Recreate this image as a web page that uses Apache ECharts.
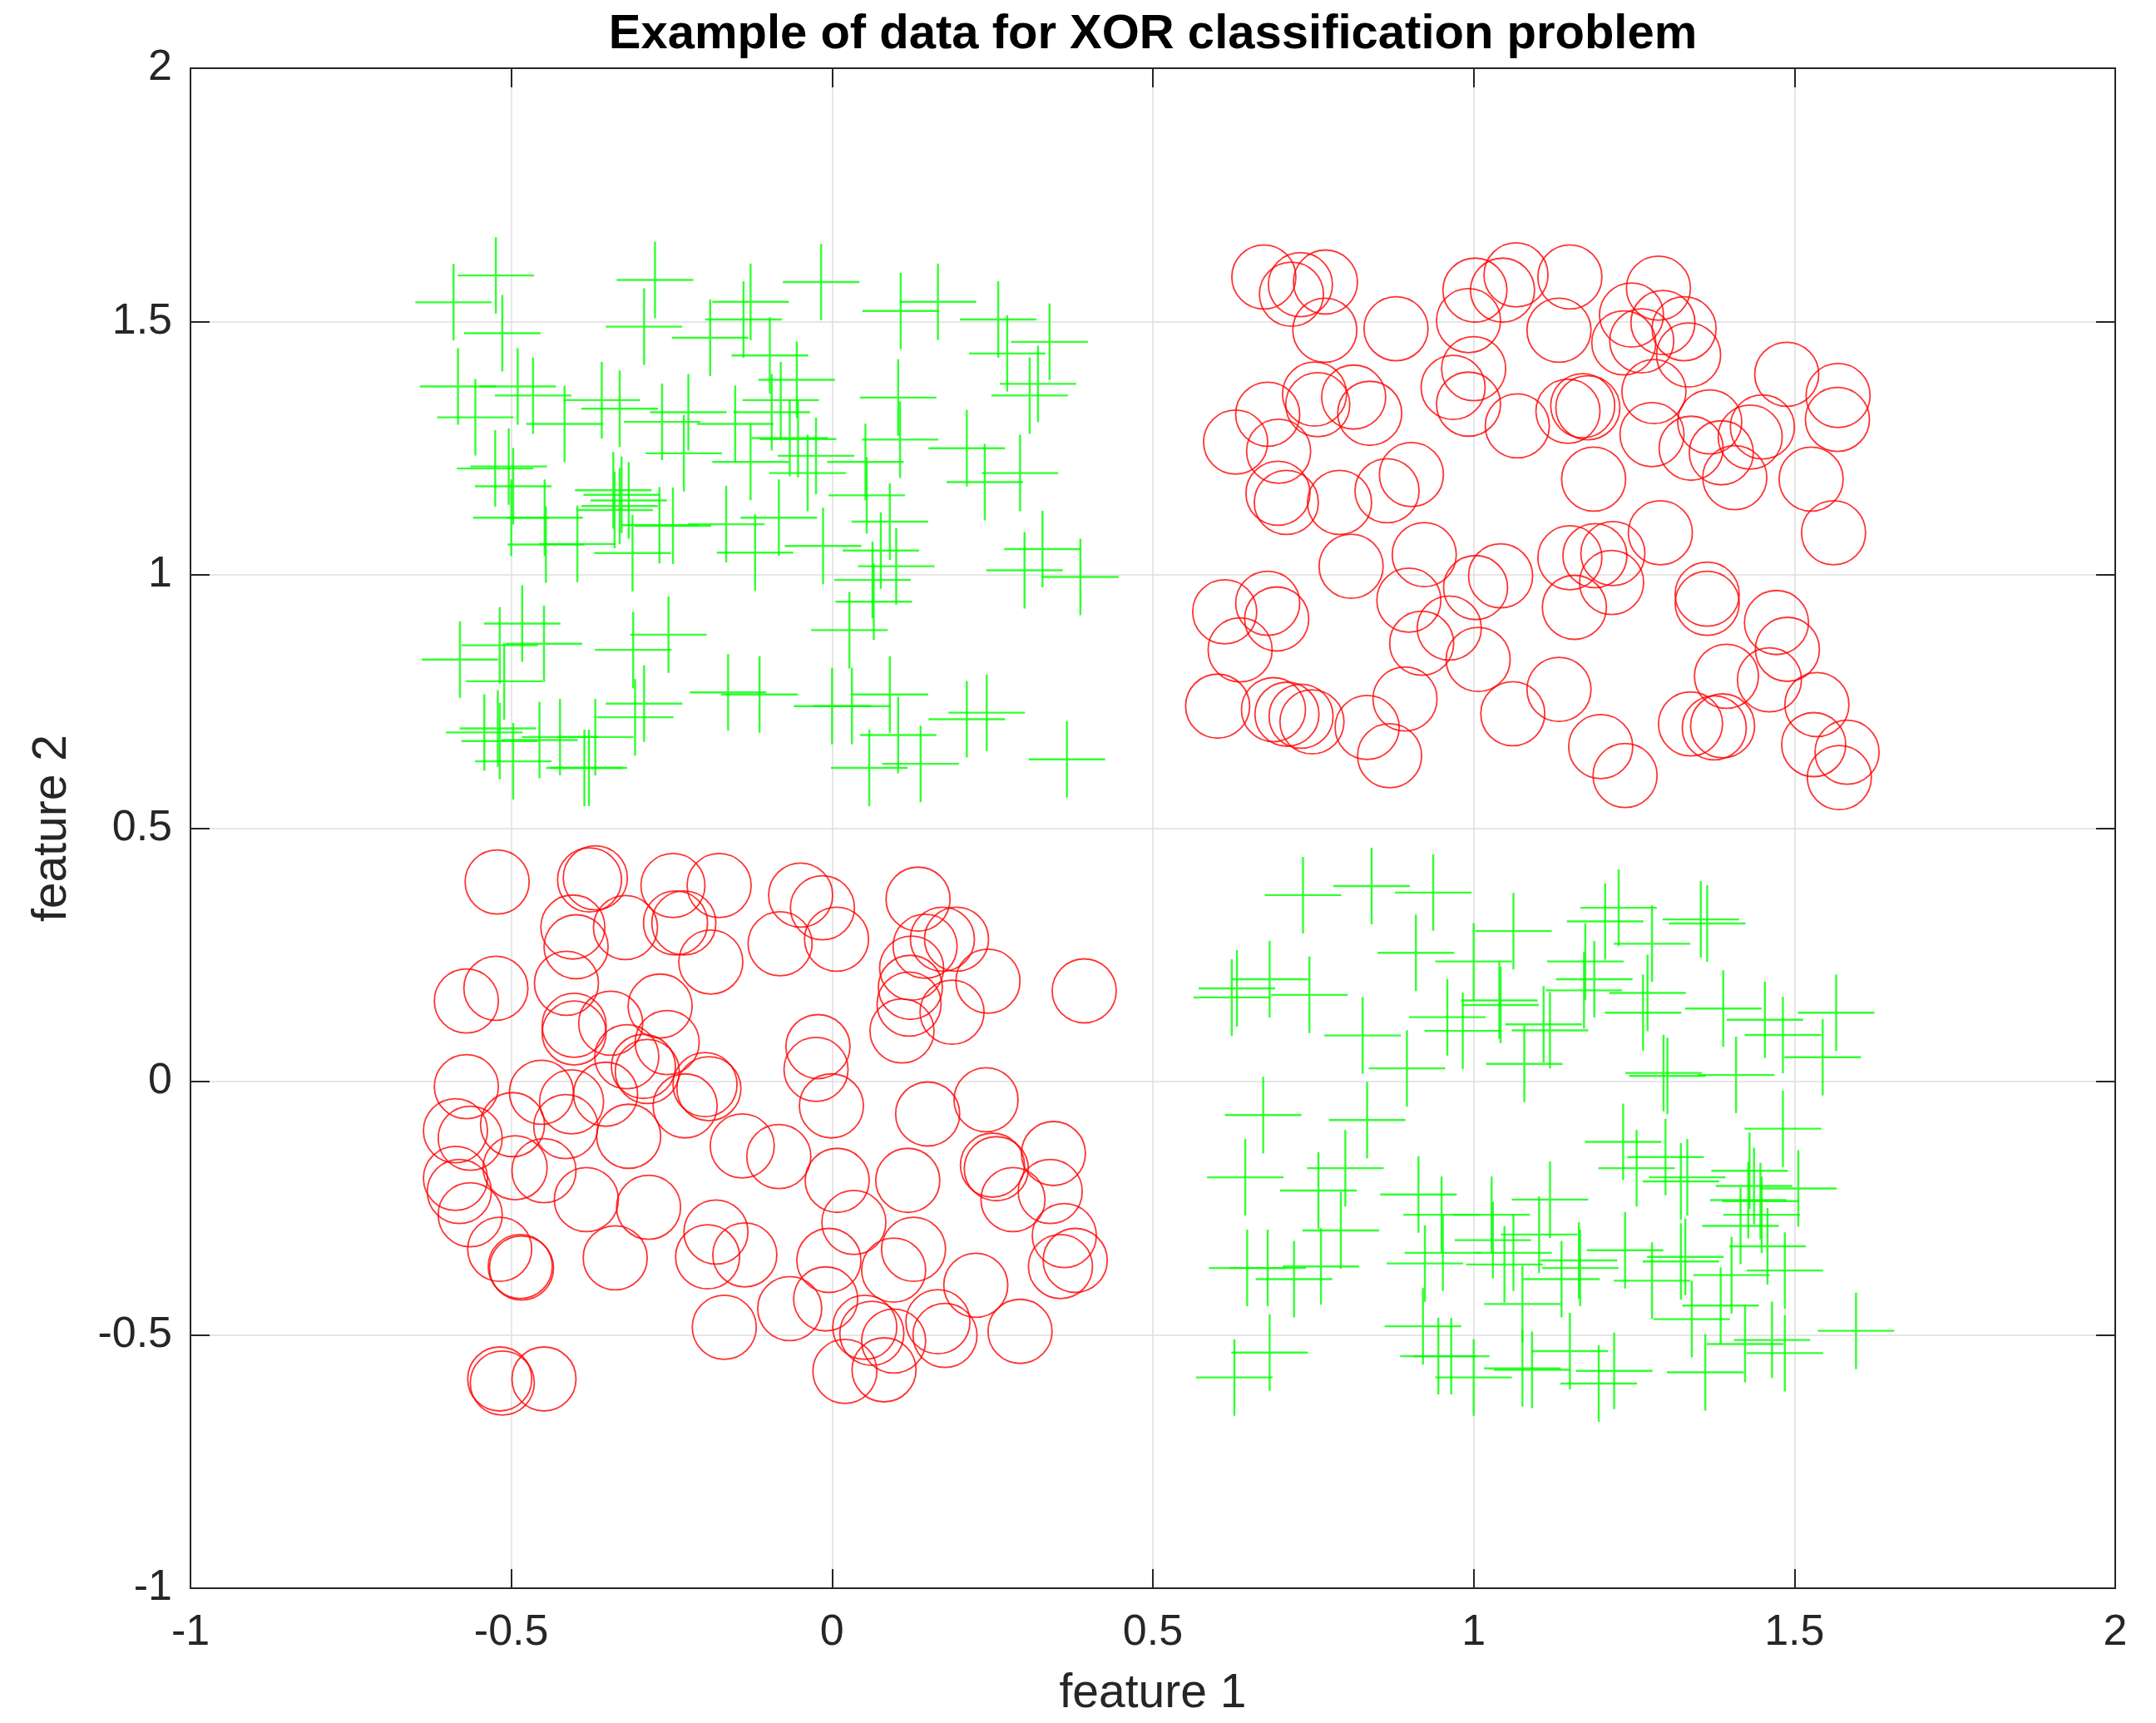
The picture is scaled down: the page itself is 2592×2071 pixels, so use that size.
<!DOCTYPE html>
<html>
<head>
<meta charset="utf-8">
<title>Example of data for XOR classification problem</title>
<script src="https://cdn.jsdelivr.net/npm/echarts@6/dist/echarts.min.js"></script>
<style>
  html, body { margin: 0; padding: 0; background: #fff; }
  #chart { width: 2592px; height: 2071px; }
</style>
</head>
<body>
<div id="chart"></div>
<script>
// axis range (both features)
const axisMin = -1
const axisMax = 2
const axisStep = 0.5

// class "+" (green): upper-left and lower-right blobs
const plusUpperLeft = [
  [-0.590, 1.538], [-0.524, 1.591], [-0.514, 1.477], [-0.276, 1.582], [-0.293, 1.490], [-0.190, 1.468],
  [-0.127, 1.539], [-0.138, 1.504], [-0.097, 1.433], [-0.583, 1.372], [-0.556, 1.311], [-0.490, 1.372],
  [-0.466, 1.354], [-0.417, 1.298], [-0.359, 1.345], [-0.331, 1.328], [-0.265, 1.302], [-0.224, 1.321],
  [-0.231, 1.240], [-0.151, 1.298], [-0.127, 1.223], [-0.525, 1.210], [-0.504, 1.214], [-0.497, 1.175],
  [-0.500, 1.113], [-0.448, 1.113], [-0.446, 1.060], [-0.397, 1.061], [-0.341, 1.167], [-0.339, 1.128],
  [-0.331, 1.136], [-0.317, 1.147], [-0.328, 1.158], [-0.311, 1.043], [-0.269, 1.098], [-0.248, 1.097],
  [-0.165, 1.100], [-0.120, 1.044], [-0.483, 0.904], [-0.449, 0.864], [-0.518, 0.861], [-0.580, 0.833],
  [-0.511, 0.790], [-0.310, 0.852], [-0.255, 0.882], [-0.162, 0.768], [-0.113, 0.764], [-0.307, 0.719],
  [-0.293, 0.746], [-0.542, 0.689], [-0.521, 0.697], [-0.518, 0.672], [-0.497, 0.632], [-0.456, 0.674],
  [-0.424, 0.680], [-0.369, 0.680], [-0.386, 0.619], [-0.379, 0.619],
  [-0.017, 1.578], [0.107, 1.521], [0.165, 1.539], [0.259, 1.504], [0.273, 1.437], [0.339, 1.460],
  [0.321, 1.377], [0.308, 1.354], [-0.055, 1.385], [-0.080, 1.345], [-0.094, 1.321], [-0.066, 1.270],
  [-0.053, 1.268], [-0.038, 1.201], [-0.025, 1.235], [0.103, 1.350], [0.106, 1.267], [0.052, 1.223],
  [0.054, 1.157], [0.210, 1.250], [0.238, 1.183], [0.293, 1.201], [0.090, 1.105], [0.076, 1.048],
  [0.100, 1.017], [0.063, 0.990], [0.065, 0.947], [0.027, 0.891], [-0.014, 1.057], [-0.083, 1.113],
  [0.300, 1.009], [0.328, 1.051], [0.387, 0.996], [0.000, 0.741], [0.031, 0.741], [0.090, 0.764],
  [0.103, 0.684], [0.058, 0.619], [0.138, 0.627], [0.210, 0.715], [0.241, 0.728], [0.366, 0.636],
]

const plusLowerRight = [
  [0.734, 0.368], [0.841, 0.386], [0.937, 0.373], [0.910, 0.254], [1.062, 0.297], [1.000, 0.237],
  [1.040, 0.160], [1.042, 0.151], [0.959, 0.127], [0.983, 0.100], [1.079, 0.035], [0.623, 0.166],
  [0.631, 0.184], [0.682, 0.202], [0.744, 0.171], [0.827, 0.091], [0.896, 0.026], [0.672, -0.066],
  [0.834, -0.076], [0.644, -0.189], [0.800, -0.171], [0.758, -0.215], [0.793, -0.294], [0.647, -0.368],
  [0.679, -0.368], [0.720, -0.390], [0.762, -0.365], [0.914, -0.223], [0.950, -0.263], [1.028, -0.263],
  [0.952, -0.338], [0.924, -0.359], [1.030, -0.313], [1.048, -0.361], [1.062, -0.338], [0.921, -0.483],
  [0.945, -0.542], [0.965, -0.542], [1.000, -0.584], [0.682, -0.535], [0.627, -0.584], [1.076, -0.439],
  [1.076, -0.566],
  [1.205, 0.316], [1.226, 0.343], [1.278, 0.272], [1.354, 0.320], [1.364, 0.312], [1.174, 0.237],
  [1.172, 0.180], [1.188, 0.202], [1.109, 0.113], [1.119, 0.101], [1.264, 0.136], [1.271, 0.175],
  [1.389, 0.144], [1.454, 0.122], [1.482, 0.092], [1.565, 0.136], [1.544, 0.048], [1.296, 0.017],
  [1.302, 0.011], [1.409, 0.013], [1.233, -0.119], [1.254, -0.171], [1.299, -0.149], [1.323, -0.197],
  [1.333, -0.189], [1.482, -0.093], [1.506, -0.211], [1.430, -0.176], [1.437, -0.206], [1.428, -0.234],
  [1.447, -0.236], [1.449, -0.263], [1.416, -0.285], [1.458, -0.325], [1.119, -0.233], [1.102, -0.302],
  [1.164, -0.353], [1.166, -0.368], [1.137, -0.390], [1.236, -0.333], [1.278, -0.393], [1.340, -0.469],
  [1.323, -0.355], [1.330, -0.346], [1.385, -0.442], [1.402, -0.382], [1.485, -0.373], [1.150, -0.532],
  [1.091, -0.569], [1.195, -0.596], [1.219, -0.571], [1.361, -0.574], [1.423, -0.518], [1.465, -0.510],
  [1.485, -0.536], [1.596, -0.492],
]

// class "o" (red): upper-right and lower-left blobs
const circleUpperRight = [
  [0.673, 1.588], [0.716, 1.554], [0.730, 1.573], [0.769, 1.578], [0.768, 1.483], [0.879, 1.486],
  [1.002, 1.562], [0.992, 1.502], [1.000, 1.407], [0.968, 1.370], [0.992, 1.337], [0.679, 1.317],
  [0.629, 1.262], [0.696, 1.244], [0.752, 1.357], [0.757, 1.336], [0.813, 1.351], [0.838, 1.319],
  [0.695, 1.161], [0.708, 1.143], [0.791, 1.143], [0.865, 1.166], [0.903, 1.198], [0.809, 1.017],
  [0.923, 1.040], [0.899, 0.950], [1.003, 0.975], [1.042, 0.998], [0.612, 0.927], [0.679, 0.944],
  [0.693, 0.913], [0.636, 0.852], [0.919, 0.865], [0.962, 0.895], [1.007, 0.833], [0.601, 0.741],
  [0.688, 0.734], [0.709, 0.725], [0.731, 0.721], [0.748, 0.710], [0.834, 0.699], [0.893, 0.755],
  [0.869, 0.643], [1.061, 0.726], [1.045, 1.562], [1.066, 1.592],
  [1.150, 1.588], [1.133, 1.483], [1.068, 1.294], [1.246, 1.513], [1.288, 1.566], [1.262, 1.462],
  [1.234, 1.458], [1.295, 1.498], [1.328, 1.486], [1.335, 1.434], [1.281, 1.362], [1.147, 1.323],
  [1.170, 1.334], [1.178, 1.330], [1.187, 1.189], [1.278, 1.277], [1.339, 1.250], [1.368, 1.302],
  [1.386, 1.241], [1.407, 1.192], [1.431, 1.272], [1.450, 1.292], [1.488, 1.396], [1.568, 1.354],
  [1.567, 1.307], [1.526, 1.189], [1.561, 1.083], [1.150, 1.034], [1.189, 1.038], [1.217, 1.042],
  [1.215, 0.985], [1.157, 0.936], [1.291, 1.083], [1.364, 0.962], [1.364, 0.944], [1.472, 0.906],
  [1.489, 0.853], [1.461, 0.793], [1.394, 0.800], [1.535, 0.744], [1.133, 0.774], [1.198, 0.661],
  [1.236, 0.604], [1.338, 0.706], [1.375, 0.698], [1.388, 0.702], [1.530, 0.665], [1.582, 0.650],
  [1.570, 0.600],
]

const circleLowerLeft = [
  [-0.522, 0.394], [-0.378, 0.398], [-0.369, 0.402], [-0.248, 0.387], [-0.176, 0.387], [-0.404, 0.305],
  [-0.399, 0.266], [-0.322, 0.304], [-0.244, 0.313], [-0.231, 0.313], [-0.189, 0.236], [-0.570, 0.159],
  [-0.524, 0.184], [-0.414, 0.194], [-0.402, 0.111], [-0.402, 0.096], [-0.345, 0.115], [-0.268, 0.149],
  [-0.320, 0.049], [-0.294, 0.030], [-0.288, 0.020], [-0.257, 0.077], [-0.570, -0.010], [-0.453, -0.021],
  [-0.406, -0.040], [-0.415, -0.089], [-0.353, -0.025], [-0.198, -0.006], [-0.192, -0.014], [-0.229, -0.048],
  [-0.317, -0.108], [-0.587, -0.097], [-0.564, -0.112], [-0.498, -0.085], [-0.587, -0.191], [-0.581, -0.217],
  [-0.564, -0.263], [-0.518, -0.331], [-0.484, -0.368], [-0.486, -0.365], [-0.494, -0.170], [-0.449, -0.176],
  [-0.383, -0.233], [-0.286, -0.248], [-0.338, -0.348], [-0.181, -0.297], [-0.194, -0.346], [-0.136, -0.342],
  [-0.168, -0.485], [-0.140, -0.127], [-0.518, -0.587], [-0.514, -0.595], [-0.449, -0.587],
  [-0.049, 0.368], [-0.015, 0.343], [-0.081, 0.272], [0.007, 0.281], [0.134, 0.360], [0.145, 0.267],
  [0.172, 0.281], [0.194, 0.281], [0.124, 0.224], [0.122, 0.186], [0.120, 0.153], [0.109, 0.100],
  [0.187, 0.137], [0.243, 0.198], [0.393, 0.179], [-0.022, 0.069], [-0.025, 0.024], [-0.001, -0.048],
  [0.149, -0.064], [0.240, -0.036], [-0.083, -0.148], [0.008, -0.195], [0.118, -0.195], [0.034, -0.278],
  [0.250, -0.165], [0.256, -0.172], [0.282, -0.233], [0.345, -0.142], [0.340, -0.217], [0.362, -0.304],
  [0.379, -0.353], [0.356, -0.365], [-0.005, -0.353], [0.096, -0.372], [0.127, -0.331], [-0.066, -0.448],
  [-0.010, -0.429], [0.224, -0.402], [0.051, -0.485], [0.062, -0.497], [0.096, -0.512], [0.165, -0.474],
  [0.176, -0.501], [0.293, -0.493], [0.020, -0.572], [0.081, -0.569],
]

const titleText = 'Example of data for XOR classification problem'
const xName = 'feature 1'
const yName = 'feature 2'

const font = '"Liberation Sans", Arial, Helvetica, sans-serif'
const ink = '#262626'
const gridColor = '#dedede'
const plusColor = '#00ff00'
const circleColor = '#ff0000'

const plot = { left: 229, top: 82, right: 49, bottom: 162 }
const chartEl = document.getElementById('chart')
const chart = echarts.init(chartEl)

function valueAxis(extra) {
  return Object.assign({
    type: 'value',
    min: axisMin,
    max: axisMax,
    interval: axisStep,
    axisLine: { show: true, onZero: false, lineStyle: { color: ink, width: 2 } },
    axisTick: { show: true, inside: true, length: 23, lineStyle: { color: ink, width: 2 } },
    splitLine: { show: false },
    axisLabel: { show: false },
  }, extra)
}

function renderChart() {
  const plotW = 2592 - plot.left - plot.right

  chart.setOption({
    animation: false,
    backgroundColor: '#ffffff',
    textStyle: { fontFamily: font, color: ink },
    grid: { left: plot.left, top: plot.top, right: plot.right, bottom: plot.bottom, containLabel: false },
    graphic: [
      {
        type: 'text',
        x: plot.left + plotW / 2,
        y: 42,
        style: {
          text: titleText,
          font: 'bold 58px ' + font,
          fill: '#000000',
          align: 'center',
          verticalAlign: 'middle',
          textAlign: 'center',
          textVerticalAlign: 'middle',
        },
      },
    ],
    xAxis: [
      valueAxis({
        position: 'bottom',
        splitLine: { show: true, lineStyle: { color: gridColor, width: 1.5 } },
        axisLabel: { show: true, fontSize: 52, fontFamily: font, color: ink, margin: 28 },
        name: xName,
        nameLocation: 'middle',
        nameGap: 99,
        nameTextStyle: { fontSize: 57, fontFamily: font, color: ink },
      }),
      valueAxis({ position: 'top' }),
    ],
    yAxis: [
      valueAxis({
        position: 'left',
        splitLine: { show: true, lineStyle: { color: gridColor, width: 1.5 } },
        axisLabel: { show: true, fontSize: 52, fontFamily: font, color: ink, margin: 22 },
        name: yName,
        nameLocation: 'middle',
        nameGap: 137,
        nameTextStyle: { fontSize: 57, fontFamily: font, color: ink },
      }),
      valueAxis({ position: 'right' }),
    ],
    series: [
      {
        type: 'scatter',
        name: 'class 1',
        data: plusUpperLeft.concat(plusLowerRight),
        symbol: 'path://M0,0L0,2M-1,1L1,1',
        symbolSize: 92,
        itemStyle: { color: 'rgba(0,0,0,0)', borderColor: plusColor, borderWidth: 2.4 },
        emphasis: { disabled: true },
      },
      {
        type: 'scatter',
        name: 'class 2',
        data: circleUpperRight.concat(circleLowerLeft),
        symbol: 'circle',
        symbolSize: 77,
        itemStyle: { color: 'rgba(0,0,0,0)', borderColor: circleColor, borderWidth: 1.8 },
        emphasis: { disabled: true },
      },
    ],
  })
}

renderChart()
</script>
</body>
</html>
